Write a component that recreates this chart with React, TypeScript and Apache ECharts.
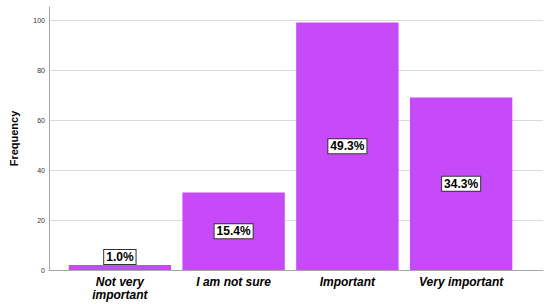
import React, { useEffect, useRef } from "react";
import * as echarts from "echarts";

const categories = ["Not very\nimportant", "I am not sure", "Important", "Very important"];
const frequencies = [2, 31, 99, 69];
const percentLabels = ["1.0%", "15.4%", "49.3%", "34.3%"];
const yTicks = { min: 0, max: 105.2, interval: 20 };

export default function App() {
  const ref = useRef<HTMLDivElement>(null);
  useEffect(() => {
    if (!ref.current) return;
    const chart = echarts.init(ref.current, undefined, { renderer: "svg" });
    const font = "Arial, 'Liberation Sans', sans-serif";
    const labelBox = {
      show: true,
      position: "inside" as const,
      fontFamily: font,
      fontSize: 12,
      fontWeight: "bold" as const,
      color: "#000",
      backgroundColor: "#fff",
      borderColor: "#333",
      borderWidth: 1,
      padding: [1, 2, 1, 2],
      lineHeight: 12,
    };
    chart.setOption({
      animation: false,
      grid: [
        { left: 38, right: 7, top: 7, bottom: 34 },
        { left: 63, right: 32, top: 7, bottom: 34 },
      ],
      xAxis: [
        {
          gridIndex: 0,
          type: "category",
          data: [""],
          axisLine: { show: true, lineStyle: { color: "#a6a6a6", width: 1 } },
          axisTick: { show: false },
          axisLabel: { show: false },
        },
        {
          gridIndex: 1,
          type: "category",
          data: categories,
          axisLine: { show: false },
          axisTick: { show: false },
          axisLabel: {
            margin: 5,
            fontFamily: font,
            fontSize: 12,
            fontWeight: "bold",
            fontStyle: "italic",
            color: "#000",
            lineHeight: 13,
          },
        },
      ],
      yAxis: [
        {
          gridIndex: 0,
          type: "value",
          min: yTicks.min,
          max: yTicks.max,
          interval: yTicks.interval,
          name: "Frequency",
          nameLocation: "middle",
          nameRotate: 90,
          nameGap: 30,
          nameTextStyle: { fontFamily: font, fontSize: 11, fontWeight: "bold", color: "#000" },
          axisLine: { show: true, lineStyle: { color: "#a6a6a6", width: 1 } },
          axisTick: { show: false },
          axisLabel: {
            fontFamily: font,
            fontSize: 7,
            color: "#333",
            margin: 4,
            showMaxLabel: false,
          },
          splitLine: { show: true, showMaxLine: false, lineStyle: { color: "#dadada", width: 1 } },
        },
        {
          gridIndex: 1,
          type: "value",
          min: yTicks.min,
          max: yTicks.max,
          show: false,
          splitLine: { show: false },
        },
      ],
      series: [
        {
          type: "bar",
          xAxisIndex: 1,
          yAxisIndex: 1,
          barCategoryGap: "10%",
          itemStyle: { color: "#c64af7" },
          label: {
            ...labelBox,
            formatter: (p: any) => percentLabels[p.dataIndex],
          },
          data: frequencies.map((v, i) =>
            i === 0 ? { value: v, label: { position: "top", distance: 1 } } : v
          ),
        },
      ],
    });
    return () => chart.dispose();
  }, []);
  return (
    <div
      ref={ref}
      style={{ position: "absolute", left: 0, top: 0, width: 550, height: 304 }}
    />
  );
}
